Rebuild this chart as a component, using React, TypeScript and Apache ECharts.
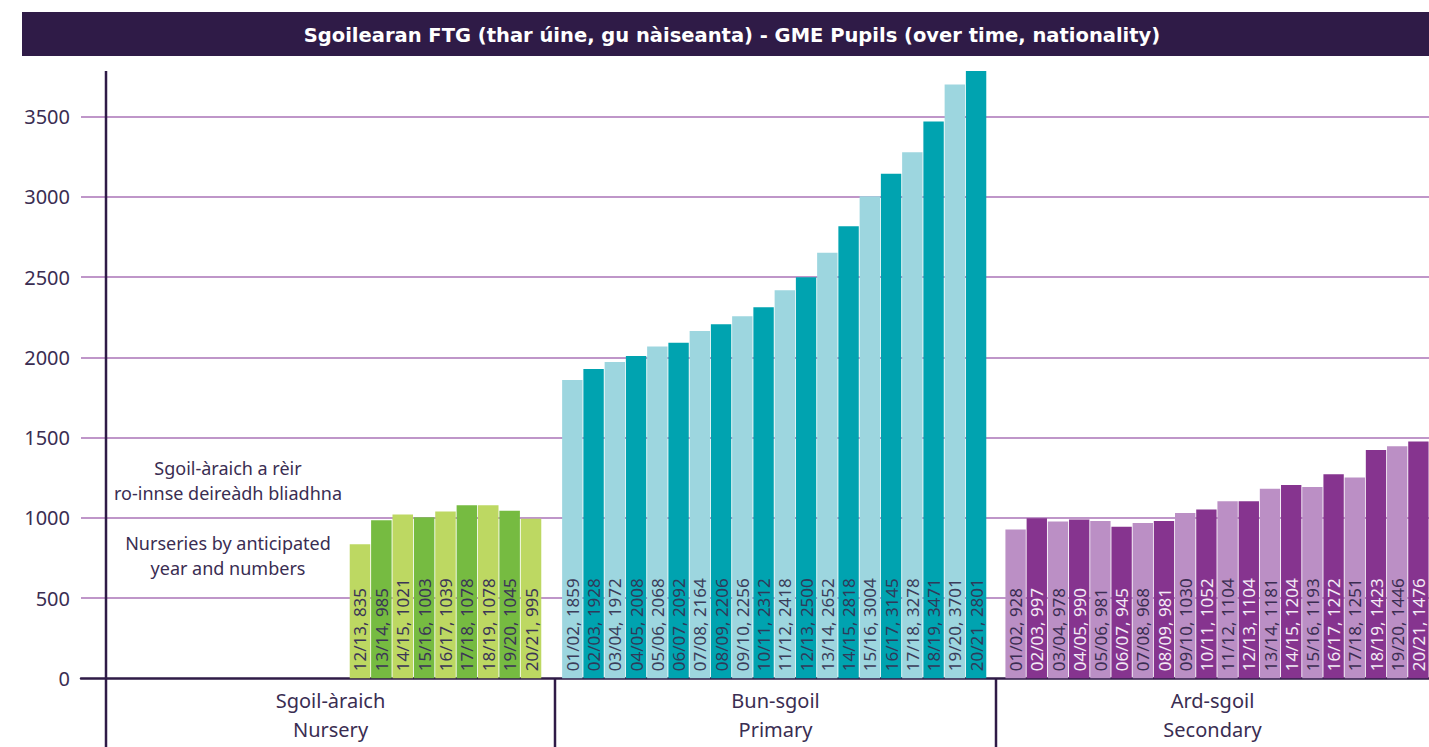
import React, { useEffect, useRef } from 'react';
import * as echarts from 'echarts';

const FONT = '"Noto Sans", "Open Sans", sans-serif';
const TITLE_FONT = '"DejaVu Sans", "Noto Sans", sans-serif';
const DARK = '#2f1b47';
const TEXT = '#3a2d52';
const GRIDLINE = '#bf96c9';

const titleText = 'Sgoilearan FTG (thar úine, gu nàiseanta) - GME Pupils (over time, nationality)';

const nurseryYears = ['12/13', '13/14', '14/15', '15/16', '16/17', '17/18', '18/19', '19/20', '20/21'];
const nurseryValues = [835, 985, 1021, 1003, 1039, 1078, 1078, 1045, 995];
const nurseryPrinted = [835, 985, 1021, 1003, 1039, 1078, 1078, 1045, 995];

const schoolYears = ['01/02', '02/03', '03/04', '04/05', '05/06', '06/07', '07/08', '08/09', '09/10', '10/11',
  '11/12', '12/13', '13/14', '14/15', '15/16', '16/17', '17/18', '18/19', '19/20', '20/21'];
const primaryValues = [1859, 1928, 1972, 2008, 2068, 2092, 2164, 2206, 2256, 2312, 2418, 2500, 2652, 2818, 3004, 3145, 3278, 3471, 3701, 3801];
const primaryPrinted = [1859, 1928, 1972, 2008, 2068, 2092, 2164, 2206, 2256, 2312, 2418, 2500, 2652, 2818, 3004, 3145, 3278, 3471, 3701, 2801];
const secondaryValues = [928, 997, 978, 990, 981, 945, 968, 981, 1030, 1052, 1104, 1104, 1181, 1204, 1193, 1272, 1251, 1423, 1446, 1476];
const secondaryPrinted = [928, 997, 978, 990, 981, 945, 968, 981, 1030, 1052, 1104, 1104, 1181, 1204, 1193, 1272, 1251, 1423, 1446, 1476];

const groupLabels = ['Sgoil-àraich\nNursery', 'Bun-sgoil\nPrimary', 'Ard-sgoil\nSecondary'];
const noteGaelic = 'Sgoil-àraich a rèir\nro-innse deireàdh bliadhna';
const noteEnglish = 'Nurseries by anticipated\nyear and numbers';

const Y_MAX = 3785;
const TOP = 71;
const BOTTOM = 68.7;

export default function App() {
  const ref = useRef<HTMLDivElement>(null);
  useEffect(() => {
    const chart = echarts.init(ref.current!, null, { renderer: 'svg' });

    const makeSeries = (
      idx: number,
      years: string[],
      values: number[],
      printed: number[],
      light: string,
      dark: string,
      lightText: string,
      darkText: string
    ) => ({
      type: 'bar',
      xAxisIndex: idx,
      yAxisIndex: idx,
      barCategoryGap: '4%',
      clip: true,
      data: values.map((v, i) => ({
        value: v,
        itemStyle: { color: i % 2 === 0 ? light : dark },
        label: { color: i % 2 === 0 ? lightText : darkText },
      })),
      label: {
        show: true,
        position: 'insideBottom',
        rotate: 90,
        align: 'left',
        verticalAlign: 'middle',
        distance: 7,
        fontSize: 17,
        fontFamily: FONT,
        formatter: (p: any) => `${years[p.dataIndex]}, ${printed[p.dataIndex]}`,
      },
    });

    const hiddenY = (gi: number) => ({
      gridIndex: gi,
      type: 'value',
      min: 0,
      max: Y_MAX,
      interval: 500,
      show: false,
    });

    const option: any = {
      animation: false,
      backgroundColor: '#ffffff',
      grid: [
        { left: 81, right: 0, top: TOP, bottom: BOTTOM },
        { left: 349.3, width: 192.4, top: TOP, bottom: BOTTOM },
        { left: 561.7, width: 425, top: TOP, bottom: BOTTOM },
        { left: 1005, width: 424, top: TOP, bottom: BOTTOM },
      ],
      xAxis: [
        {
          gridIndex: 0,
          type: 'value',
          min: 0,
          max: 1,
          axisLine: { show: true, onZero: false, lineStyle: { color: DARK, width: 2.5 } },
          axisTick: { show: false },
          axisLabel: { show: false },
          splitLine: { show: false },
        },
        { gridIndex: 1, type: 'category', data: nurseryYears, show: false },
        { gridIndex: 2, type: 'category', data: schoolYears, show: false },
        { gridIndex: 3, type: 'category', data: schoolYears, show: false },
      ],
      yAxis: [
        {
          gridIndex: 0,
          type: 'value',
          min: 0,
          max: Y_MAX,
          interval: 500,
          axisLine: { show: false },
          axisTick: { show: false },
          axisLabel: {
            fontSize: 20,
            fontFamily: FONT,
            color: TEXT,
            margin: 11,
            showMaxLabel: false,
            formatter: (v: number) => (v % 500 === 0 ? String(v) : ''),
          },
          splitLine: {
            show: true,
            showMinLine: false,
            showMaxLine: false,
            lineStyle: { color: GRIDLINE, width: 2 },
          },
        },
        hiddenY(1),
        hiddenY(2),
        hiddenY(3),
      ],
      series: [
        makeSeries(1, nurseryYears, nurseryValues, nurseryPrinted, '#bdd862', '#76bb41', '#3b3556', '#3b3556'),
        makeSeries(2, schoolYears, primaryValues, primaryPrinted, '#9dd6df', '#00a3b0', '#3b3d5a', '#2f3a5a'),
        makeSeries(3, schoolYears, secondaryValues, secondaryPrinted, '#bb8fc5', '#86348f', '#3b2d52', '#f3eaf5'),
      ],
      graphic: [
        {
          type: 'rect',
          z: 100,
          shape: { x: 22, y: 12, width: 1407, height: 44 },
          style: { fill: DARK },
        },
        {
          type: 'text',
          z: 101,
          x: 732,
          y: 35,
          style: {
            text: titleText,
            fill: '#ffffff',
            font: `bold 19.5px ${TITLE_FONT}`,
            textAlign: 'center',
            textVerticalAlign: 'middle',
          },
        },
        {
          type: 'line',
          z: 100,
          shape: { x1: 106, y1: 71, x2: 106, y2: 747 },
          style: { stroke: DARK, lineWidth: 2.5 },
        },
        {
          type: 'line',
          z: 100,
          shape: { x1: 555, y1: 678, x2: 555, y2: 747 },
          style: { stroke: DARK, lineWidth: 2.5 },
        },
        {
          type: 'line',
          z: 100,
          shape: { x1: 996, y1: 678, x2: 996, y2: 747 },
          style: { stroke: DARK, lineWidth: 2.5 },
        },
        ...groupLabels.map((t, i) => ({
          type: 'text',
          z: 100,
          x: [330.5, 775.5, 1212.5][i],
          y: 715,
          style: {
            text: t,
            fill: TEXT,
            font: `20px ${FONT}`,
            lineHeight: 29,
            textAlign: 'center',
            textVerticalAlign: 'middle',
          },
        })),
        {
          type: 'text',
          z: 100,
          x: 228,
          y: 480.5,
          style: {
            text: noteGaelic,
            fill: TEXT,
            font: `18px ${FONT}`,
            lineHeight: 25,
            textAlign: 'center',
            textVerticalAlign: 'middle',
          },
        },
        {
          type: 'text',
          z: 100,
          x: 228,
          y: 555.5,
          style: {
            text: noteEnglish,
            fill: TEXT,
            font: `18px ${FONT}`,
            lineHeight: 25,
            textAlign: 'center',
            textVerticalAlign: 'middle',
          },
        },
      ],
    };

    chart.setOption(option);
    return () => chart.dispose();
  }, []);

  return (
    <div
      ref={ref}
      style={{ position: 'fixed', left: 0, top: 0, width: 1429, height: 747, background: '#ffffff' }}
    />
  );
}
